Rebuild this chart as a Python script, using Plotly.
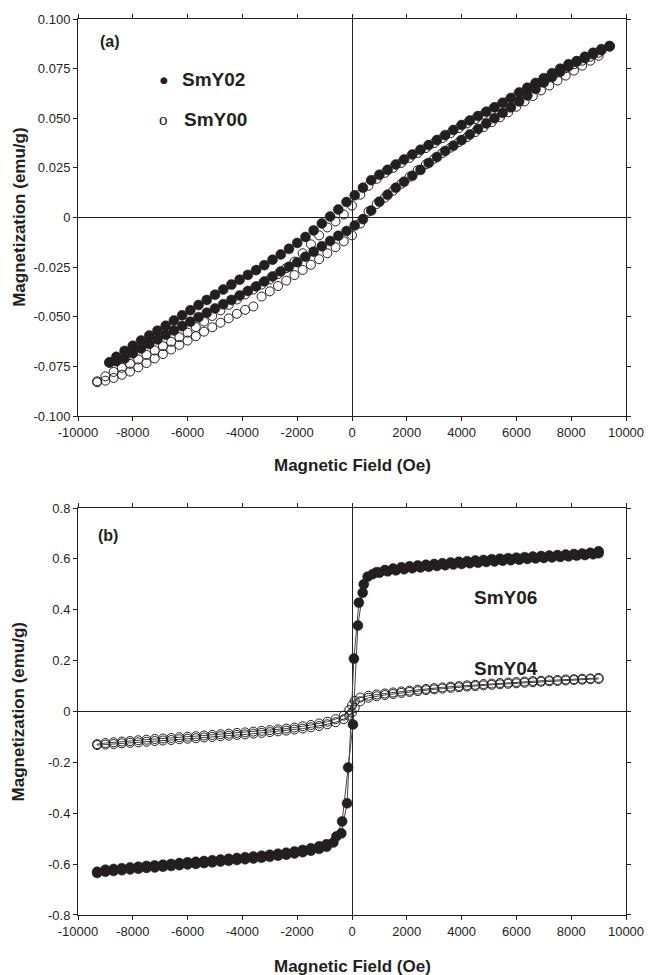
import plotly.graph_objects as go

# ---------------- Panel (a) data ----------------
# SmY02 (filled) : field grid in descending order; branch values aligned to it
FIELD_02 = [9400, 9100, 8800, 8500, 8200, 7900, 7600, 7300, 7000, 6700,
            6400, 6100, 5800, 5500, 5200, 4900, 4600, 4300, 4000, 3700,
            3400, 3100, 2800, 2500, 2200, 1900, 1600, 1300, 1000, 700,
            400, 100, -200, -500, -800, -1100, -1400, -1700, -2000, -2300,
            -2600, -2900, -3200, -3500, -3800, -4100, -4400, -4700, -5000, -5300,
            -5600, -5900, -6200, -6500, -6800, -7100, -7400, -7700, -8000, -8300,
            -8600, -8850]
M02_DOWN = [0.0862, 0.0843, 0.0823, 0.0803, 0.0787, 0.0772, 0.0750, 0.0727, 0.0702, 0.0678,
            0.0654, 0.0630, 0.0602, 0.0578, 0.0555, 0.0533, 0.0511, 0.0489, 0.0466, 0.0441,
            0.0415, 0.0390, 0.0365, 0.0341, 0.0317, 0.0292, 0.0267, 0.0240, 0.0215, 0.0188,
            0.0150, 0.0112, 0.0078, 0.0040, 0.0005, -0.0030, -0.0065, -0.0098, -0.0128, -0.0158,
            -0.0186, -0.0213, -0.0240, -0.0265, -0.0289, -0.0313, -0.0338, -0.0363, -0.0389, -0.0415,
            -0.0441, -0.0467, -0.0493, -0.0519, -0.0545, -0.0570, -0.0595, -0.0620, -0.0646, -0.0672,
            -0.0702, -0.0730]
M02_UP = [0.0864, 0.0848, 0.0830, 0.0810, 0.0787, 0.0762, 0.0735, 0.0708, 0.0680, 0.0648,
          0.0615, 0.0585, 0.0555, 0.0527, 0.0500, 0.0474, 0.0446, 0.0418, 0.0390, 0.0362,
          0.0335, 0.0305, 0.0275, 0.0240, 0.0210, 0.0180, 0.0150, 0.0115, 0.0080, 0.0035,
          -0.0008, -0.0040, -0.0068, -0.0092, -0.0118, -0.0145, -0.0172, -0.0198, -0.0225, -0.0248,
          -0.0272, -0.0297, -0.0322, -0.0347, -0.0370, -0.0393, -0.0415, -0.0437, -0.0458, -0.0480,
          -0.0502, -0.0525, -0.0547, -0.0569, -0.0591, -0.0614, -0.0637, -0.0660, -0.0684, -0.0710,
          -0.0724, -0.0730]

# SmY00 (open)
FIELD_00 = [9000, 8700, 8400, 8100, 7800, 7500, 7200, 6900, 6600, 6300,
            6000, 5700, 5400, 5100, 4800, 4500, 4200, 3900, 3600, 3300,
            3000, 2700, 2400, 2100, 1800, 1500, 1200, 900, 600, 300,
            0, -300, -600, -900, -1200, -1500, -1800, -2100, -2400, -2700,
            -3000, -3300, -3600, -3900, -4200, -4500, -4800, -5100, -5400, -5700,
            -6000, -6300, -6600, -6900, -7200, -7500, -7800, -8100, -8400, -8700,
            -9000, -9300]
M00_DOWN = [0.0830, 0.0810, 0.0790, 0.0772, 0.0752, 0.0730, 0.0706, 0.0682, 0.0658, 0.0634,
            0.0610, 0.0585, 0.0562, 0.0540, 0.0518, 0.0496, 0.0474, 0.0450, 0.0425, 0.0400,
            0.0375, 0.0350, 0.0325, 0.0300, 0.0275, 0.0250, 0.0225, 0.0195, 0.0160, 0.0115,
            0.0060, 0.0015, -0.0020, -0.0050, -0.0090, -0.0135, -0.0180, -0.0222, -0.0255, -0.0285,
            -0.0312, -0.0338, -0.0363, -0.0388, -0.0413, -0.0440, -0.0468, -0.0496, -0.0524, -0.0552,
            -0.0580, -0.0603, -0.0626, -0.0648, -0.0670, -0.0692, -0.0715, -0.0737, -0.0757, -0.0778,
            -0.0800, -0.0825]
M00_UP = [0.0815, 0.0790, 0.0765, 0.0740, 0.0715, 0.0690, 0.0665, 0.0640, 0.0612, 0.0585,
          0.0558, 0.0530, 0.0505, 0.0480, 0.0455, 0.0430, 0.0405, 0.0380, 0.0352, 0.0325,
          0.0296, 0.0268, 0.0238, 0.0205, 0.0170, 0.0135, 0.0100, 0.0068, 0.0030, -0.0030,
          -0.0090, -0.0120, -0.0150, -0.0180, -0.0210, -0.0238, -0.0264, -0.0290, -0.0318, -0.0345,
          -0.0372, -0.0398, -0.0448, -0.0465, -0.0485, -0.0508, -0.0530, -0.0553, -0.0575, -0.0598,
          -0.0620, -0.0642, -0.0665, -0.0688, -0.0710, -0.0733, -0.0755, -0.0776, -0.0792, -0.0808,
          -0.0822, -0.0830]

# ---------------- Panel (b) data ----------------
# SmY06 (filled): descending branch and ascending branch
F06_DOWN = [9000, 8700, 8400, 8100, 7800, 7500, 7200, 6900, 6600, 6300,
            6000, 5700, 5400, 5100, 4800, 4500, 4200, 3900, 3600, 3300,
            3000, 2700, 2400, 2100, 1800, 1500, 1200, 900, 570, 390,
            215, 35, -140, -360, -570, -930, -1200, -1500, -1800, -2100,
            -2400, -2700, -3000, -3300, -3600, -3900, -4200, -4500, -4800, -5100,
            -5400, -5700, -6000, -6300, -6600, -6900, -7200, -7500, -7800, -8100,
            -8400, -8700, -9000, -9300]
M06_DOWN = [0.630, 0.624, 0.621, 0.619, 0.617, 0.615, 0.613, 0.611, 0.609, 0.607,
            0.605, 0.603, 0.601, 0.599, 0.596, 0.594, 0.591, 0.589, 0.586, 0.583,
            0.580, 0.577, 0.574, 0.571, 0.567, 0.562, 0.556, 0.548, 0.530, 0.467,
            0.338, -0.051, -0.220, -0.432, -0.491, -0.522, -0.530, -0.538, -0.544, -0.550,
            -0.555, -0.559, -0.563, -0.567, -0.570, -0.573, -0.576, -0.579, -0.582, -0.585,
            -0.588, -0.591, -0.593, -0.596, -0.599, -0.602, -0.605, -0.607, -0.610, -0.613,
            -0.616, -0.619, -0.622, -0.630]
F06_UP = [-9300, -9000, -8700, -8400, -8100, -7800, -7500, -7200, -6900, -6600,
          -6300, -6000, -5700, -5400, -5100, -4800, -4500, -4200, -3900, -3600,
          -3300, -3000, -2700, -2400, -2100, -1800, -1500, -1200, -930, -680,
          -390, -180, 70, 250, 430, 750, 1000, 1300, 1600, 1900,
          2200, 2500, 2800, 3100, 3400, 3700, 4000, 4300, 4600, 4900,
          5200, 5500, 5800, 6100, 6400, 6700, 7000, 7300, 7600, 7900,
          8200, 8500, 8800, 9000]
M06_UP = [-0.635, -0.630, -0.627, -0.624, -0.621, -0.618, -0.615, -0.613, -0.610, -0.607,
          -0.604, -0.601, -0.599, -0.596, -0.593, -0.590, -0.587, -0.584, -0.581, -0.578,
          -0.575, -0.571, -0.567, -0.563, -0.558, -0.553, -0.547, -0.540, -0.532, -0.515,
          -0.479, -0.361, 0.208, 0.428, 0.500, 0.540, 0.546, 0.551, 0.555, 0.559,
          0.563, 0.566, 0.569, 0.572, 0.575, 0.578, 0.580, 0.583, 0.585, 0.588,
          0.590, 0.593, 0.595, 0.597, 0.600, 0.602, 0.604, 0.606, 0.608, 0.610,
          0.613, 0.615, 0.618, 0.622]

# SmY04 (open): field grid descending, both branches aligned to it
FIELD_04 = [9000, 8700, 8400, 8100, 7800, 7500, 7200, 6900, 6600, 6300,
            6000, 5700, 5400, 5100, 4800, 4500, 4200, 3900, 3600, 3300,
            3000, 2700, 2400, 2100, 1800, 1500, 1200, 900, 600, 300,
            100, 0, -100,
            -300, -600, -900, -1200, -1500, -1800, -2100, -2400, -2700, -3000,
            -3300, -3600, -3900, -4200, -4500, -4800, -5100, -5400, -5700, -6000,
            -6300, -6600, -6900, -7200, -7500, -7800, -8100, -8400, -8700, -9000,
            -9300]
M04_DOWN = [0.132, 0.130, 0.129, 0.127, 0.126, 0.124, 0.123, 0.121, 0.120, 0.118,
            0.116, 0.114, 0.112, 0.110, 0.108, 0.105, 0.103, 0.100, 0.098, 0.095,
            0.092, 0.089, 0.086, 0.082, 0.079, 0.075, 0.071, 0.067, 0.062, 0.055,
            0.042, 0.024, 0.006,
            -0.016, -0.030, -0.040, -0.047, -0.053, -0.058, -0.063, -0.067, -0.070, -0.073,
            -0.076, -0.079, -0.082, -0.084, -0.087, -0.089, -0.092, -0.094, -0.097, -0.099,
            -0.101, -0.104, -0.106, -0.108, -0.111, -0.113, -0.116, -0.118, -0.121, -0.124,
            -0.128]
M04_UP = [0.128, 0.127, 0.125, 0.124, 0.122, 0.120, 0.119, 0.117, 0.115, 0.113,
          0.111, 0.109, 0.107, 0.105, 0.103, 0.100, 0.098, 0.095, 0.093, 0.090,
          0.087, 0.084, 0.080, 0.077, 0.073, 0.069, 0.065, 0.060, 0.054, 0.040,
          0.014, -0.004, -0.016,
          -0.030, -0.042, -0.050, -0.057, -0.062, -0.067, -0.071, -0.075, -0.078, -0.081,
          -0.084, -0.087, -0.090, -0.092, -0.095, -0.097, -0.100, -0.102, -0.105, -0.107,
          -0.109, -0.112, -0.114, -0.116, -0.119, -0.121, -0.123, -0.125, -0.128, -0.130,
          -0.132]

# ---------------- Tick labels ----------------
FIELD_TICKS = [-10000, -8000, -6000, -4000, -2000, 0, 2000, 4000, 6000, 8000, 10000]
FIELD_TICK_TEXT = ["-10000", "-8000", "-6000", "-4000", "-2000", "0",
                   "2000", "4000", "6000", "8000", "10000"]
MAG_A_TICKS = [-0.1, -0.075, -0.05, -0.025, 0, 0.025, 0.05, 0.075, 0.1]
MAG_A_TICK_TEXT = ["-0.100", "-0.075", "-0.050", "-0.025", "0",
                   "0.025", "0.050", "0.075", "0.100"]
MAG_B_TICKS = [-0.8, -0.6, -0.4, -0.2, 0, 0.2, 0.4, 0.6, 0.8]
MAG_B_TICK_TEXT = ["-0.8", "-0.6", "-0.4", "-0.2", "0", "0.2", "0.4", "0.6", "0.8"]

INK = "#231f20"
FONT = "Liberation Sans, Arial, sans-serif"

fig = go.Figure()

# Panel (a)
fig.add_trace(go.Scatter(
    x=FIELD_00 + FIELD_00[::-1], y=M00_DOWN + M00_UP[::-1],
    mode="markers", name="SmY00",
    marker=dict(symbol="circle-open", size=9, color=INK, line=dict(width=1, color=INK)),
    xaxis="x", yaxis="y"))
fig.add_trace(go.Scatter(
    x=FIELD_02 + FIELD_02[::-1], y=M02_DOWN + M02_UP[::-1],
    mode="markers", name="SmY02",
    marker=dict(symbol="circle", size=10, color=INK, line=dict(width=0.5, color=INK)),
    xaxis="x", yaxis="y"))

# Panel (b)
fig.add_trace(go.Scatter(
    x=FIELD_04 + FIELD_04[::-1], y=M04_DOWN + M04_UP[::-1],
    mode="lines+markers", name="SmY04",
    line=dict(color="#444", width=1),
    marker=dict(symbol="circle-open", size=9, color=INK, line=dict(width=1, color=INK)),
    xaxis="x2", yaxis="y2"))
fig.add_trace(go.Scatter(
    x=F06_DOWN + F06_UP, y=M06_DOWN + M06_UP,
    mode="lines+markers", name="SmY06",
    line=dict(color="#444", width=1),
    marker=dict(symbol="circle", size=10, color=INK, line=dict(width=0.5, color=INK)),
    xaxis="x2", yaxis="y2"))

axis_common = dict(
    showgrid=False, zeroline=True, zerolinecolor=INK, zerolinewidth=1,
    showline=True, linecolor=INK, linewidth=1, mirror="ticks",
    ticks="outside", ticklen=4, tickwidth=1, tickcolor=INK,
    tickfont=dict(family=FONT, size=13, color=INK),
    fixedrange=True,
)

fig.update_layout(
    width=656, height=975,
    margin=dict(l=78, r=22, t=19, b=60),
    paper_bgcolor="white", plot_bgcolor="white",
    showlegend=False,
    xaxis=dict(domain=[0, 1], anchor="y", range=[-10000, 10000],
               tickmode="array", tickvals=FIELD_TICKS, ticktext=FIELD_TICK_TEXT, **axis_common),
    yaxis=dict(domain=[0.5569, 1], anchor="x", range=[-0.1, 0.1],
               tickmode="array", tickvals=MAG_A_TICKS, ticktext=MAG_A_TICK_TEXT, **axis_common),
    xaxis2=dict(domain=[0, 1], anchor="y2", range=[-10000, 10000],
                tickmode="array", tickvals=FIELD_TICKS, ticktext=FIELD_TICK_TEXT, **axis_common),
    yaxis2=dict(domain=[0, 0.4542], anchor="x2", range=[-0.8, 0.8],
                tickmode="array", tickvals=MAG_B_TICKS, ticktext=MAG_B_TICK_TEXT, **axis_common),
)

title_font = dict(family=FONT, size=17, color=INK)
label_font = dict(family=FONT, size=19, color=INK)
ann = []
# axis titles
ann.append(dict(text="<b>Magnetization (emu/g)</b>", x=-0.108, y=0.779, textangle=-90,
                font=title_font))
ann.append(dict(text="<b>Magnetization (emu/g)</b>", x=-0.108, y=0.227, textangle=-90,
                font=title_font))
ann.append(dict(text="<b>Magnetic Field (Oe)</b>", x=0.5, y=0.502, font=title_font))
ann.append(dict(text="<b>Magnetic Field (Oe)</b>", x=0.5, y=-0.057, font=title_font))
# panel letters
ann.append(dict(text="<b>(a)</b>", x=0.0576, y=0.9754, font=dict(family=FONT, size=16, color=INK)))
ann.append(dict(text="<b>(b)</b>", x=0.054, y=0.424, font=dict(family=FONT, size=16, color=INK)))
# legend-like labels in (a)
ann.append(dict(text="\u25cf", x=(165 - 78) / 556, y=(915 - 80) / 896,
                font=dict(family="DejaVu Sans", size=9, color=INK)))
ann.append(dict(text="<b>SmY02</b>", x=(215.5 - 78) / 556, y=(915 - 80) / 896, font=label_font))
ann.append(dict(text="o", x=(165 - 78) / 556, y=(915 - 119) / 896,
                font=dict(family="Liberation Serif", size=17, color=INK)))
ann.append(dict(text="<b>SmY00</b>", x=(217 - 78) / 556, y=(915 - 119) / 896, font=label_font))
# series labels in (b)
ann.append(dict(text="<b>SmY06</b>", x=(512 - 78) / 556, y=(915 - 597) / 896, font=label_font))
ann.append(dict(text="<b>SmY04</b>", x=(512 - 78) / 556, y=(915 - 668) / 896, font=label_font))

for a in ann:
    a.update(xref="paper", yref="paper", showarrow=False, xanchor="center", yanchor="middle")
fig.update_layout(annotations=ann)

# remove the default page margin so the figure sits at the window's top-left corner
fig.write_html("out.html",
               config={"displayModeBar": False},
               post_script="document.body.style.margin='0px';document.body.style.overflow='hidden';")
